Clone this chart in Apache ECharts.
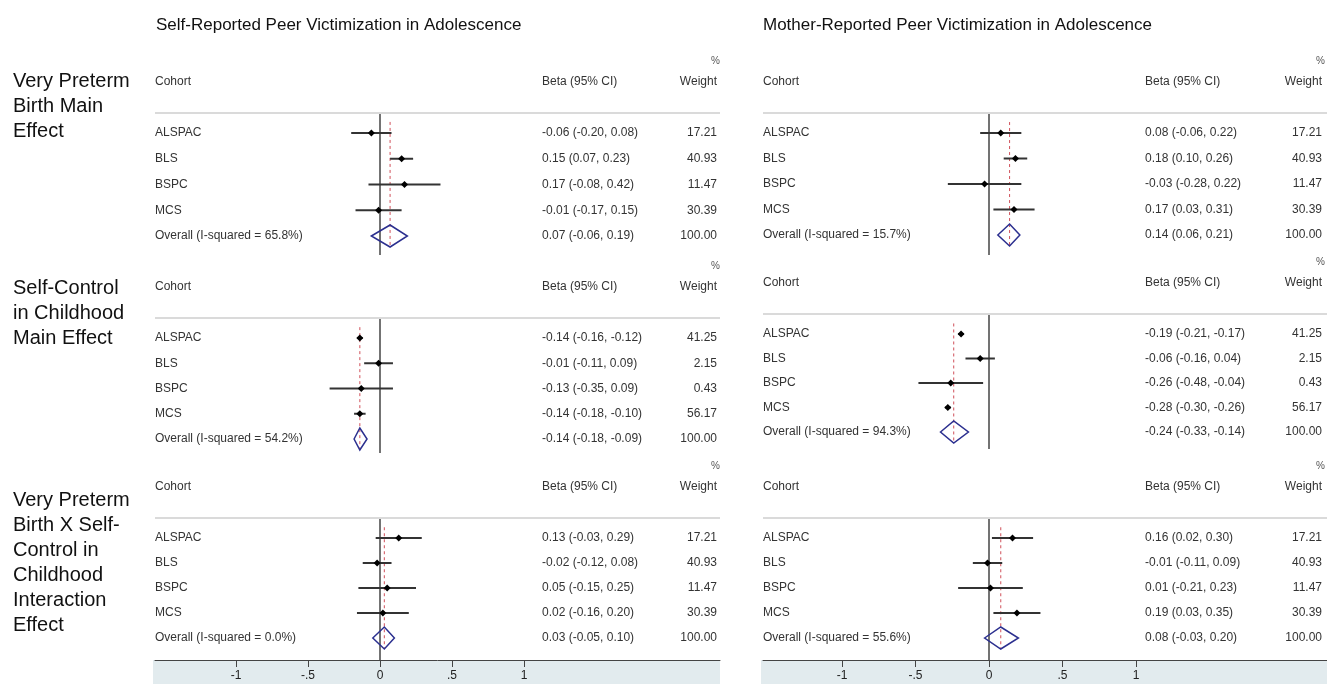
<!DOCTYPE html>
<html>
<head>
<meta charset="utf-8">
<script src="https://cdn.jsdelivr.net/npm/echarts@6/dist/echarts.min.js"></script>
<style>
  html, body { margin: 0; padding: 0; background: #fff; }
  #main { width: 1327px; height: 684px; }
</style>
</head>
<body>
<div id="main"></div>
<script>
// ---- data ----
const cohorts = ['ALSPAC', 'BLS', 'BSPC', 'MCS'];
const columnTitles = ['Self-Reported Peer Victimization in Adolescence', 'Mother-Reported Peer Victimization in Adolescence'];
const rowTitles = [
  'Very Preterm\nBirth Main\nEffect',
  'Self-Control\nin Childhood\nMain Effect',
  'Very Preterm\nBirth X Self-\nControl in\nChildhood\nInteraction\nEffect'
];
const tickValues = [-1, -0.5, 0, 0.5, 1];
const tickLabels = ['-1', '-.5', '0', '.5', '1'];

const vpbWeights = [17.21, 40.93, 11.47, 30.39];
const scWeights = [41.25, 2.15, 0.43, 56.17];

// self-reported, very preterm birth main effect
const selfVpbBeta = [-0.06, 0.15, 0.17, -0.01];
const selfVpbLo = [-0.20, 0.07, -0.08, -0.17];
const selfVpbHi = [0.08, 0.23, 0.42, 0.15];
const selfVpbOverall = [0.07, -0.06, 0.19];
const selfVpbI2 = 65.8;

// mother-reported, very preterm birth main effect
const motherVpbBeta = [0.08, 0.18, -0.03, 0.17];
const motherVpbLo = [-0.06, 0.10, -0.28, 0.03];
const motherVpbHi = [0.22, 0.26, 0.22, 0.31];
const motherVpbOverall = [0.14, 0.06, 0.21];
const motherVpbI2 = 15.7;

// self-reported, self-control main effect
const selfScBeta = [-0.14, -0.01, -0.13, -0.14];
const selfScLo = [-0.16, -0.11, -0.35, -0.18];
const selfScHi = [-0.12, 0.09, 0.09, -0.10];
const selfScOverall = [-0.14, -0.18, -0.09];
const selfScI2 = 54.2;

// mother-reported, self-control main effect
const motherScBeta = [-0.19, -0.06, -0.26, -0.28];
const motherScLo = [-0.21, -0.16, -0.48, -0.30];
const motherScHi = [-0.17, 0.04, -0.04, -0.26];
const motherScOverall = [-0.24, -0.33, -0.14];
const motherScI2 = 94.3;

// self-reported, interaction
const selfIntBeta = [0.13, -0.02, 0.05, 0.02];
const selfIntLo = [-0.03, -0.12, -0.15, -0.16];
const selfIntHi = [0.29, 0.08, 0.25, 0.20];
const selfIntOverall = [0.03, -0.05, 0.10];
const selfIntI2 = 0.0;

// mother-reported, interaction
const motherIntBeta = [0.16, -0.01, 0.01, 0.19];
const motherIntLo = [0.02, -0.11, -0.21, 0.03];
const motherIntHi = [0.30, 0.09, 0.23, 0.35];
const motherIntOverall = [0.08, -0.03, 0.20];
const motherIntI2 = 55.6;

// ---- layout ----
const panels = [
  {col: 0, row: 0, beta: selfVpbBeta, lo: selfVpbLo, hi: selfVpbHi, w: vpbWeights, overall: selfVpbOverall, i2: selfVpbI2},
  {col: 1, row: 0, beta: motherVpbBeta, lo: motherVpbLo, hi: motherVpbHi, w: vpbWeights, overall: motherVpbOverall, i2: motherVpbI2},
  {col: 0, row: 1, beta: selfScBeta, lo: selfScLo, hi: selfScHi, w: scWeights, overall: selfScOverall, i2: selfScI2},
  {col: 1, row: 1, beta: motherScBeta, lo: motherScLo, hi: motherScHi, w: scWeights, overall: motherScOverall, i2: motherScI2},
  {col: 0, row: 2, beta: selfIntBeta, lo: selfIntLo, hi: selfIntHi, w: vpbWeights, overall: selfIntOverall, i2: selfIntI2},
  {col: 1, row: 2, beta: motherIntBeta, lo: motherIntLo, hi: motherIntHi, w: vpbWeights, overall: motherIntOverall, i2: motherIntI2}
];

const colLayout = [
  {left: 155, right: 720, zero: 380, scale: 144, betaX: 542, weightX: 717, title: 156},
  {left: 763, right: 1327, zero: 989, scale: 147, betaX: 1145, weightX: 1322, title: 763}
];
const rowLayout = [
  [{sep: 113, bottom: 255, gap: 25.75}, {sep: 113, bottom: 255, gap: 25.5}],
  [{sep: 318, bottom: 453, gap: 25.25}, {sep: 314, bottom: 449, gap: 24.5}],
  [{sep: 518, bottom: 660, gap: 25}, {sep: 518, bottom: 660, gap: 25}]
];

const panelFont = '12px "Liberation Sans", Arial, sans-serif';
const textColor = '#333';
const fmt = v => v.toFixed(2);

let grids = [], xAxes = [], yAxes = [], series = [];

panels.forEach((p, i) => {
  const c = colLayout[p.col];
  const r = rowLayout[p.row][p.col];
  const yMin = 1 - 20 / r.gap;
  const yMax = yMin + (r.bottom - r.sep) / r.gap;
  const isBottom = p.row === 2;

  grids.push({left: c.left, top: r.sep, width: c.right - c.left, height: r.bottom - r.sep, outerBoundsMode: 'none'});
  xAxes.push({
    type: 'value', gridIndex: i,
    min: (c.left - c.zero) / c.scale,
    max: (c.right - c.zero) / c.scale,
    show: isBottom,
    axisLine: {show: true, lineStyle: {color: '#444', width: 1}},
    axisTick: {show: true, length: 7, customValues: tickValues, lineStyle: {color: '#444'}},
    axisLabel: {
      show: true, customValues: tickValues, margin: 10,
      fontSize: 12, color: '#222', fontFamily: '"Liberation Sans", Arial',
      formatter: v => tickLabels[tickValues.indexOf(Math.round(v * 10) / 10)] || ''
    },
    splitLine: {show: false}
  });
  yAxes.push({type: 'value', gridIndex: i, inverse: true, min: yMin, max: yMax, show: false});

  const labels = cohorts.concat(['Overall (I-squared = ' + p.i2.toFixed(1) + '%)']);
  const betaTexts = p.beta.map((b, k) => fmt(b) + ' (' + fmt(p.lo[k]) + ', ' + fmt(p.hi[k]) + ')')
    .concat([fmt(p.overall[0]) + ' (' + fmt(p.overall[1]) + ', ' + fmt(p.overall[2]) + ')']);
  const weightTexts = p.w.map(fmt).concat(['100.00']);
  const data = p.beta.map((b, k) => [k + 1, b, p.lo[k], p.hi[k]])
    .concat([[5, p.overall[0], p.overall[1], p.overall[2]]]);

  // zero line
  series.push({
    type: 'line', xAxisIndex: i, yAxisIndex: i, silent: true, symbol: 'none', z: 1,
    data: [[0, yMin], [0, yMax]],
    lineStyle: {color: '#444', width: 1.5}
  });
  // overall estimate dashed line
  series.push({
    type: 'line', xAxisIndex: i, yAxisIndex: i, silent: true, symbol: 'none', z: 2,
    data: [[p.overall[0], 0.57], [p.overall[0], 5.43]],
    lineStyle: {color: '#d0505a', width: 1, type: [3, 3]}
  });
  // rows
  series.push({
    type: 'custom', xAxisIndex: i, yAxisIndex: i, silent: true, z: 3,
    data: data,
    renderItem: function (params, api) {
      const k = params.dataIndex;
      const cs = params.coordSys;
      const yv = api.value(0);
      const pB = api.coord([api.value(1), yv]);
      const pL = api.coord([api.value(2), yv]);
      const pH = api.coord([api.value(3), yv]);
      const y = pB[1];
      const t = (x, yy, s, align) => ({
        type: 'text', x: x, y: yy,
        style: {text: s, font: panelFont, fill: textColor, align: align || 'left', verticalAlign: 'middle'}
      });
      const children = [
        t(cs.x, y, labels[k]),
        t(c.betaX, y, betaTexts[k]),
        t(c.weightX, y, weightTexts[k], 'right')
      ];
      if (k === 4) {
        children.push({
          type: 'polygon',
          shape: {points: [[pL[0], y], [pB[0], y - 11], [pH[0], y], [pB[0], y + 11]]},
          style: {fill: 'rgba(0,0,0,0)', stroke: '#2b2f8f', lineWidth: 1.5}
        });
      } else {
        children.push({
          type: 'line', shape: {x1: pL[0], y1: y, x2: pH[0], y2: y},
          style: {stroke: '#333', lineWidth: 2}
        });
        children.push({
          type: 'polygon',
          shape: {points: [[pB[0] - 3.5, y], [pB[0], y - 3.5], [pB[0] + 3.5, y], [pB[0], y + 3.5]]},
          style: {fill: '#000'}
        });
      }
      if (k === 0) {
        children.push(
          t(cs.x, cs.y - 31, 'Cohort'),
          t(c.betaX, cs.y - 31, 'Beta (95% CI)'),
          t(c.weightX, cs.y - 31, 'Weight', 'right'),
          {type: 'text', x: c.weightX + 3, y: cs.y - 52,
            style: {text: '%', font: '10px "Liberation Sans", Arial', fill: '#555', align: 'right', verticalAlign: 'middle'}},
          {type: 'line', shape: {x1: cs.x, y1: cs.y, x2: cs.x + cs.width, y2: cs.y},
            style: {stroke: '#dadada', lineWidth: 2}}
        );
      }
      return {type: 'group', children: children};
    }
  });
});

const graphics = [];
colLayout.forEach((c, j) => {
  graphics.push({
    type: 'text', left: c.title, top: 17,
    style: {text: columnTitles[j], font: '17px "Liberation Sans", Arial', fill: '#111'}
  });
  graphics.push({
    type: 'rect', z: -10,
    shape: {x: c.left - 2, y: 660, width: c.right - c.left + 2, height: 24},
    style: {fill: '#e2ebee'}
  });
});
const rowTitleTops = [69, 276, 488];
rowTitles.forEach((s, j) => {
  graphics.push({
    type: 'text', left: 13, top: rowTitleTops[j],
    style: {text: s, font: '20px "Liberation Sans", Arial', fill: '#111', lineHeight: 25}
  });
});

const chart = echarts.init(document.getElementById('main'));
chart.setOption({
  animation: false,
  backgroundColor: '#fff',
  grid: grids,
  xAxis: xAxes,
  yAxis: yAxes,
  series: series,
  graphic: {elements: graphics}
});
</script>
</body>
</html>
